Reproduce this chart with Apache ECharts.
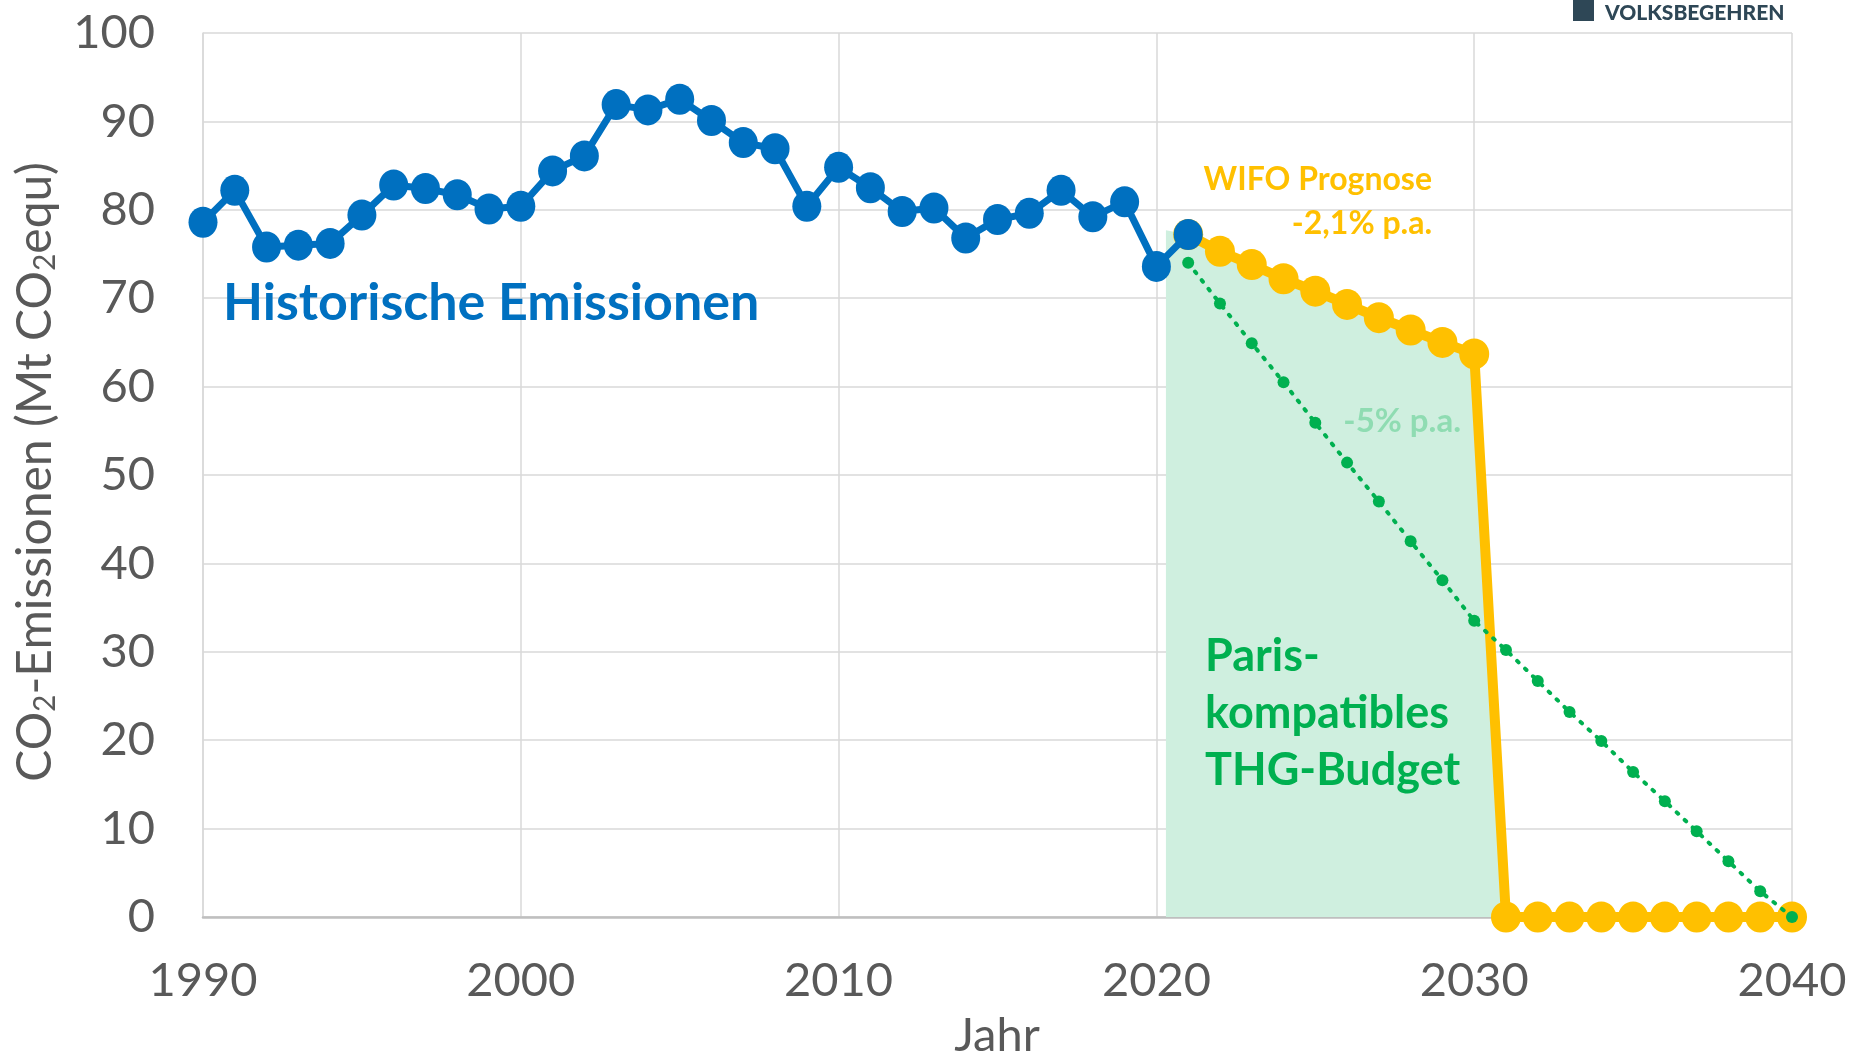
<!DOCTYPE html>
<html>
<head>
<meta charset="utf-8">
<script src="https://cdn.jsdelivr.net/npm/echarts@6/dist/echarts.min.js"></script>
<style>
	html, body { margin: 0; padding: 0; background: #fff; }
	#chart { width: 1851px; height: 1057px; }
</style>
</head>
<body>
<div id="chart"></div>
<script>
// historische Emissionen ab 1990 (Mt CO2equ)
var histStart = 1990;
var histValues = [78.6, 82.2, 75.8, 76.0, 76.2, 79.4, 82.8, 82.4, 81.7, 80.1,
	80.4, 84.4, 86.1, 91.9, 91.3, 92.5, 90.1, 87.6, 86.9, 80.4,
	84.8, 82.5, 79.8, 80.2, 76.8, 78.9, 79.6, 82.2, 79.2, 80.9,
	73.6, 77.2];

// WIFO Prognose ab 2021
var wifoStart = 2021;
var wifoValues = [77.2, 75.3, 73.8, 72.2, 70.8, 69.3, 67.8, 66.4, 65.0, 63.7,
	0, 0, 0, 0, 0, 0, 0, 0, 0, 0];

// Paris-Pfad -5% p.a. ab 2021
var parisStart = 2021;
var parisValues = [74.0, 69.4, 64.9, 60.5, 55.9, 51.4, 47.0, 42.5, 38.1, 33.5,
	30.2, 26.7, 23.2, 19.9, 16.4, 13.1, 9.7, 6.3, 2.9, 0];

// Budget-Fläche: Beginn und oberer Rand links
var budgetStart = [2020.3, 77.7];

var xTicks = [1990, 2000, 2010, 2020, 2030, 2040];
var yTicks = [0, 10, 20, 30, 40, 50, 60, 70, 80, 90, 100];

function toPoints(start, values) {
	return values.map(function (v, i) { return [start + i, v]; });
}

var histData = toPoints(histStart, histValues);
var wifoData = toPoints(wifoStart, wifoValues);
var parisData = toPoints(parisStart, parisValues);
// Fläche unter der WIFO-Linie bis zum Absturz auf 0
var budgetData = [budgetStart].concat(wifoData.filter(function (p, i) {
	return i <= wifoValues.indexOf(0);
}));

var labelColor = '#595959';
var fontFamily = 'Lato, "Noto Sans", sans-serif';

var chart = echarts.init(document.getElementById('chart'));

var option = {
	backgroundColor: '#fff',
	animation: false,
	grid: {
		left: 203,
		right: 59,
		top: 33,
		bottom: 140
	},
	xAxis: {
		type: 'value',
		min: xTicks[0],
		max: xTicks[xTicks.length - 1],
		interval: 10,
		axisLine: { lineStyle: { color: '#bfbfbf', width: 2.5 } },
		axisTick: { show: false },
		axisLabel: {
			color: labelColor,
			fontSize: 47,
			fontFamily: fontFamily,
			margin: 40,
			formatter: function (v) { return String(v); }
		},
		splitLine: { show: true, lineStyle: { color: '#d9d9d9', width: 1.5 } }
	},
	yAxis: {
		type: 'value',
		min: yTicks[0],
		max: yTicks[yTicks.length - 1],
		interval: 10,
		axisLine: { show: true, lineStyle: { color: '#d9d9d9', width: 1.5 } },
		axisTick: { show: false },
		axisLabel: {
			color: labelColor,
			fontSize: 47,
			fontFamily: fontFamily,
			margin: 48
		},
		splitLine: { show: true, lineStyle: { color: '#d9d9d9', width: 1.5 } }
	},
	series: [{
		name: 'Budget',
		type: 'line',
		data: budgetData,
		z: 1,
		symbol: 'none',
		lineStyle: { width: 0 },
		areaStyle: { color: '#cfefdf', opacity: 1 },
		silent: true
	}, {
		name: 'WIFO Prognose',
		type: 'line',
		data: wifoData,
		z: 2,
		symbol: 'circle',
		symbolSize: [30, 31],
		itemStyle: { color: '#ffc000' },
		lineStyle: { color: '#ffc000', width: 10 }
	}, {
		name: 'Historische Emissionen',
		type: 'line',
		data: histData,
		z: 3,
		symbol: 'circle',
		symbolSize: [29, 31],
		itemStyle: { color: '#0070c0' },
		lineStyle: { color: '#0070c0', width: 7 }
	}, {
		name: '-5% p.a.',
		type: 'line',
		data: parisData,
		z: 4,
		symbol: 'circle',
		symbolSize: 12,
		itemStyle: { color: '#00b050' },
		lineStyle: { color: '#00b050', width: 4, type: [2, 9], cap: 'round' }
	}],
	graphic: [{
		type: 'text',
		z: 100,
		left: 223,
		top: 277,
		style: {
			text: 'Historische Emissionen',
			fill: '#0070c0',
			font: 'bold 52px ' + fontFamily
		}
	}, {
		type: 'text',
		z: 100,
		right: 1851 - 1432,
		top: 164,
		style: {
			text: 'WIFO Prognose',
			fill: '#ffc000',
			font: 'bold 32px ' + fontFamily
		}
	}, {
		type: 'text',
		z: 100,
		right: 1851 - 1432,
		top: 208,
		style: {
			text: '-2,1% p.a.',
			fill: '#ffc000',
			font: 'bold 32px ' + fontFamily
		}
	}, {
		type: 'text',
		z: 100,
		right: 1851 - 1461,
		top: 405,
		style: {
			text: '-5% p.a.',
			fill: '#8fdcb2',
			font: 'bold 33px ' + fontFamily
		}
	}, {
		type: 'text',
		z: 100,
		left: 1205,
		top: 628,
		style: {
			text: 'Paris-\nkompatibles\nTHG-Budget',
			fill: '#00b050',
			font: 'bold 45px ' + fontFamily,
			lineHeight: 57
		}
	}, {
		type: 'text',
		z: 100,
		x: 997,
		y: 1036,
		style: {
			text: 'Jahr',
			fill: labelColor,
			font: '47px ' + fontFamily,
			textAlign: 'center',
			textVerticalAlign: 'middle'
		}
	}, {
		type: 'text',
		z: 100,
		x: 36,
		y: 472,
		rotation: Math.PI / 2,
		style: {
			text: '{n|CO}{s|2}{n|-Emissionen (Mt CO}{s|2}{n|equ)}',
			rich: {
				n: { fontSize: 48, fontFamily: fontFamily, fill: labelColor, color: labelColor },
				s: { fontSize: 30, fontFamily: fontFamily, fill: labelColor, color: labelColor, padding: [18, 0, 0, 0] }
			},
			align: 'center',
			verticalAlign: 'middle'
		}
	}, {
		type: 'rect',
		z: 100,
		shape: { x: 1573, y: 0, width: 21, height: 21 },
		style: { fill: '#2e4756' }
	}, {
		type: 'text',
		z: 100,
		left: 1605,
		top: 3,
		style: {
			text: 'VOLKSBEGEHREN',
			fill: '#2e4756',
			font: '900 21px ' + fontFamily
		}
	}]
};

chart.setOption(option);
</script>
</body>
</html>
